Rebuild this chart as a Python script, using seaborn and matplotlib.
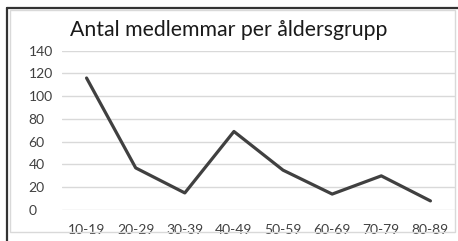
import matplotlib
matplotlib.use("Agg")
import matplotlib.pyplot as plt
import seaborn as sns
import pandas as pd
from matplotlib.lines import Line2D
from matplotlib.patches import Rectangle

# data
age_groups = ["10-19", "20-29", "30-39", "40-49", "50-59", "60-69", "70-79", "80-89"]
members = [116, 37, 15, 69, 35, 14, 30, 8]
y_ticks = [0, 20, 40, 60, 80, 100, 120, 140]

sns.set_style("white")
plt.rcParams["font.family"] = ["Lato", "DejaVu Sans"]

df = pd.DataFrame({"group": age_groups, "n": members})

W, H = 458, 241
fig = plt.figure(figsize=(W / 100, H / 100), dpi=100)
ax = fig.add_axes([62 / W, (H - 210) / H, (455 - 62) / W, (210 - 50.7) / H])

sns.lineplot(data=df, x="group", y="n", ax=ax, color="#404040", linewidth=2.3,
             sort=False)

ax.set_xlim(-0.5, len(age_groups) - 0.5)
ax.set_ylim(0, 140)
ax.set_yticks(y_ticks)
ax.yaxis.grid(True, color="#d9d9d9", linewidth=1)
ax.set_axisbelow(True)
for s in ax.spines.values():
    s.set_visible(False)
ax.tick_params(length=0, labelsize=10, labelcolor="#404040")
ax.tick_params(axis="y", pad=24)
ax.tick_params(axis="x", pad=10)
for lbl in ax.get_yticklabels():
    lbl.set_horizontalalignment("left")
ax.set_xlabel("")
ax.set_ylabel("")

fig.text(229 / W, 1 - 30 / H, "Antal medlemmar per åldersgrupp", ha="center",
         va="center", fontsize=15.3, color="#1a1a1a")

# chart frame
fig.patches.append(Rectangle((10 / W, 1 - 232 / H), 445 / W, 222 / H,
                             transform=fig.transFigure, fill=False,
                             edgecolor="#d9d9d9", linewidth=1, zorder=0))
fig.lines.append(Line2D([6.5 / W, 1], [1 - 8 / H, 1 - 8 / H],
                        transform=fig.transFigure, color="#333333", linewidth=1.6))
fig.lines.append(Line2D([6.5 / W, 6.5 / W], [0, 1 - 8 / H],
                        transform=fig.transFigure, color="#333333", linewidth=1.6))

fig.savefig("out.png", dpi=100)
